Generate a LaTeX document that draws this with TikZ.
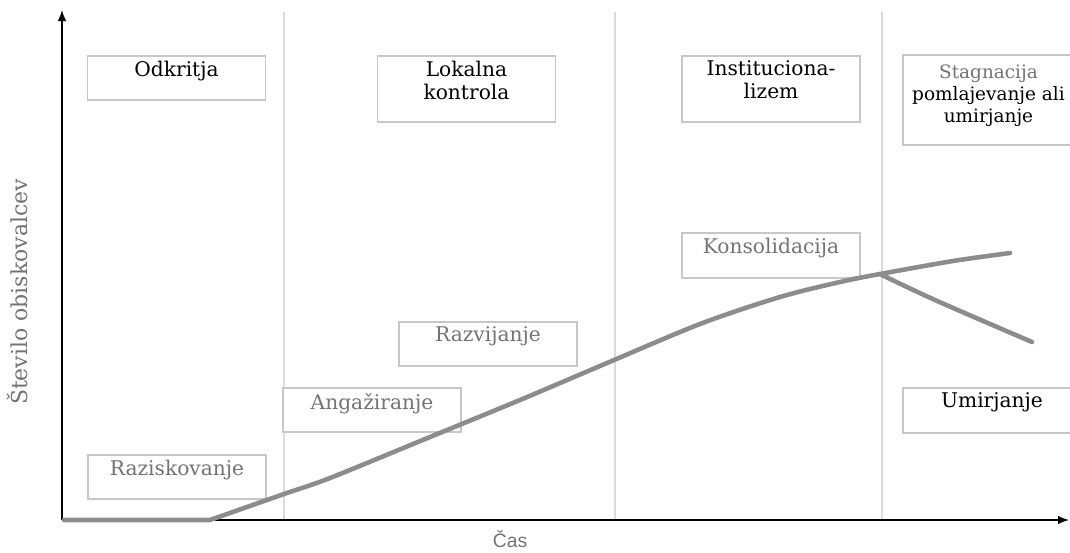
\documentclass[tikz,border=0pt]{standalone}
\usepackage{fontspec}
\setmainfont{DejaVu Serif}
\newfontfamily\axisfont{Liberation Sans}
\usetikzlibrary{arrows.meta, positioning}

\begin{document}
\begin{tikzpicture}[
    x=0.02cm, y=-0.02cm,
    every node/.style={font=\fontsize{11.5}{13}\selectfont},
    stagebox/.style={draw=black!22, fill=white, line width=0.7pt, minimum width=3.56cm, inner sep=0pt},
    stagetext/.style={align=center, inner sep=0pt},
    faint/.style={text=black!55},
    axis/.style={-{Latex[length=2.2mm, width=1.7mm]}, line width=0.8pt},
    divider/.style={draw=black!14, line width=0.6pt},
    trend/.style={black!45, line width=2.6pt, line cap=round, line join=round},
]

\useasboundingbox (0,0) rectangle (1070,552);
\clip (0,0) rectangle (1070,552);

% phase dividers
\foreach \xd in {284,615,882}
    \draw[divider] (\xd,12) -- (\xd,520);

% axes
\coordinate (origin) at (62,520);
\coordinate (ytop) at (62,10);
\coordinate (xend) at (1069,520);
\draw[axis] (origin) -- (ytop);
\draw[axis] (origin) -- (xend);

\node[faint, rotate=90, font=\fontsize{12.5}{13}\selectfont] (ylabel) at (17,292) {Število obiskovalcev};
\node[faint, font=\axisfont\fontsize{11}{12}\selectfont] (xlabel) at (510,539) {Čas};

% upper row
\node[stagebox, minimum height=0.88cm] (odkritja) at (176.5,78) {};
\node[stagebox, minimum height=1.32cm] (lokalna) at (466.5,89) {};
\node[stagebox, minimum height=1.32cm] (institucija) at (771,89) {};
\node[stagebox, minimum height=1.80cm] (stagnacija) at (992,100) {};

\node[stagetext, below=3pt of odkritja.north] (odkritjaText) {Odkritja};
\node[stagetext, below=3pt of lokalna.north] (lokalnaText) {Lokalna\\kontrola};
\node[stagetext, below=3pt of institucija.north] (institucijaText) {Instituciona-\\lizem};
\node[stagetext, below=6pt of stagnacija.north, xshift=-2pt, font=\fontsize{10.5}{12.5}\selectfont] (stagnacijaText) {\textcolor{black!55}{Stagnacija}\\pomlajevanje ali\\umirjanje};

% stages along the curve
\node[stagebox, minimum height=0.90cm] (konsolidacija) at (771,255.5) {};
\node[stagebox, minimum height=0.88cm] (razvijanje) at (488,344) {};
\node[stagebox, minimum height=0.88cm] (angaziranje) at (372,410) {};
\node[stagebox, minimum height=0.88cm] (raziskovanje) at (177,477) {};
\node[stagebox, minimum height=0.90cm] (umirjanje) at (992,410.5) {};

\node[stagetext, faint, below=3pt of konsolidacija.north] (konsolidacijaText) {Konsolidacija};
\node[stagetext, faint, below=3pt of razvijanje.north] (razvijanjeText) {Razvijanje};
\node[stagetext, faint, below=3pt of angaziranje.north] (angaziranjeText) {Angažiranje};
\node[stagetext, faint, below=3pt of raziskovanje.north] (raziskovanjeText) {Raziskovanje};
\node[stagetext, below=3pt of umirjanje.north] (umirjanjeText) {Umirjanje};

% life cycle curve
\draw[trend] (64,520) -- plot[smooth, tension=0.5] coordinates {(210,520) (284,494) (330,478) (430,437) (520,400) (600,366) (700,324) (780,297) (840,282) (880,274) (953,261) (1010,253)};
\draw[trend] plot[smooth, tension=0.6] coordinates {(880,274) (935,300) (1032,342)};

\end{tikzpicture}
\end{document}
